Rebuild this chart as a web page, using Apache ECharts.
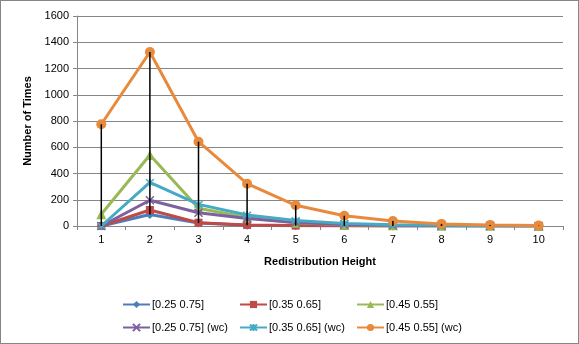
<!DOCTYPE html>
<html>
<head>
<meta charset="utf-8" />
<title>Redistribution Height</title>
<script src="https://cdn.jsdelivr.net/npm/echarts@6/dist/echarts.min.js"></script>
<style>
  body { margin: 0; background: #fff; }
  #chart { width: 577px; height: 342px; border: 1px solid #868686; }
</style>
</head>
<body>
<div id="chart"></div>
<script type="text/javascript">
var heights = ['1', '2', '3', '4', '5', '6', '7', '8', '9', '10'];
var names = ['[0.25 0.75]', '[0.35 0.65]', '[0.45 0.55]', '[0.25 0.75] (wc)', '[0.35 0.65] (wc)', '[0.45 0.55] (wc)'];
var s025 = [0, 88, 22, 5, 2, 1, 0, 0, 0, 0];
var s035 = [0, 122, 25, 8, 3, 1, 0, 0, 0, 0];
var s045 = [90, 541, 135, 65, 25, 10, 5, 2, 1, 0];
var s025wc = [0, 196, 101, 57, 27, 12, 6, 3, 1, 0];
var s035wc = [0, 332, 165, 84, 42, 20, 10, 5, 2, 1];
var s045wc = [775, 1326, 642, 322, 158, 78, 38, 16, 8, 3];
var yTicks = [0, 200, 400, 600, 800, 1000, 1200, 1400, 1600];

var colors = ['#4A7EBB', '#BE4B48', '#98B954', '#7D60A0', '#46AAC5', '#E88A3C'];
var crossPath = 'path://M1,1L9,9M9,1L1,9';
var starPath = 'path://M1,1L9,9M9,1L1,9M5,0L5,10';
var symbols = ['diamond', 'rect', 'triangle', crossPath, starPath, 'circle'];
var sizes = [9, 8, 10, 8, 8, 10];
var allSeries = [s025, s035, s045, s025wc, s035wc, s045wc];

var chart = echarts.init(document.getElementById('chart'));

// high-low lines: min to max across the six series
var hiLo = heights.map(function (h, i) {
  var vals = allSeries.map(function (s) { return s[i]; });
  return [i, Math.min.apply(null, vals), Math.max.apply(null, vals)];
});

var series = allSeries.map(function (data, k) {
  var stroked = k === 3 || k === 4;
  return {
    name: names[k],
    type: 'line',
    data: data,
    symbol: symbols[k],
    symbolSize: sizes[k],
    showSymbol: true,
    lineStyle: { color: colors[k], width: 3 },
    itemStyle: stroked
      ? { color: colors[k], borderColor: colors[k], borderWidth: 1.5 }
      : { color: colors[k], borderColor: colors[k], borderWidth: 0 },
    z: 2 + k
  };
});

series.push({
  type: 'custom',
  data: hiLo,
  z: 20,
  silent: true,
  renderItem: function (params, api) {
    var x = api.value(0);
    var p1 = api.coord([x, api.value(1)]);
    var p2 = api.coord([x, api.value(2)]);
    return {
      type: 'line',
      shape: { x1: p1[0], y1: p1[1], x2: p2[0], y2: p2[1] },
      style: { stroke: '#000', lineWidth: 1.5 }
    };
  }
});

var legendPos = [[116, 293], [233, 293], [350, 293], [116, 316], [233, 316], [350, 316]];
var legends = names.map(function (n, k) {
  return {
    data: [n],
    left: legendPos[k][0],
    top: legendPos[k][1],
    orient: 'horizontal',
    itemWidth: 27,
    itemHeight: 9,
    itemGap: 2,
    selectedMode: false,
    textStyle: { fontFamily: 'Liberation Sans', fontSize: 11, color: '#000', padding: [0, 0, 0, -3] }
  };
});

var option = {
  animation: false,
  color: colors,
  grid: { left: 76, right: 15, top: 15, bottom: 117 },
  legend: legends,
  xAxis: {
    type: 'category',
    data: heights,
    boundaryGap: true,
    name: 'Redistribution Height',
    nameLocation: 'middle',
    nameGap: 30,
    nameTextStyle: { fontFamily: 'Liberation Sans', fontSize: 11, fontWeight: 'bold', color: '#000' },
    axisLine: { lineStyle: { color: '#868686', width: 1 } },
    axisTick: { show: true, length: 4, lineStyle: { color: '#868686' } },
    axisLabel: { fontFamily: 'Liberation Sans', fontSize: 11, color: '#000', margin: 8 }
  },
  yAxis: {
    type: 'value',
    min: yTicks[0],
    max: yTicks[yTicks.length - 1],
    interval: yTicks[1] - yTicks[0],
    name: 'Number of Times',
    nameLocation: 'middle',
    nameGap: 43,
    nameRotate: 90,
    nameTextStyle: { fontFamily: 'Liberation Sans', fontSize: 11, fontWeight: 'bold', color: '#000' },
    axisLine: { show: true, lineStyle: { color: '#868686', width: 1 } },
    axisTick: { show: true, length: 4, lineStyle: { color: '#868686' } },
    axisLabel: {
      fontFamily: 'Liberation Sans', fontSize: 11, color: '#000', margin: 8,
      formatter: function (v) { return String(v); }
    },
    splitLine: { lineStyle: { color: '#868686', width: 1 } }
  },
  series: series
};

chart.setOption(option);
</script>
</body>
</html>
